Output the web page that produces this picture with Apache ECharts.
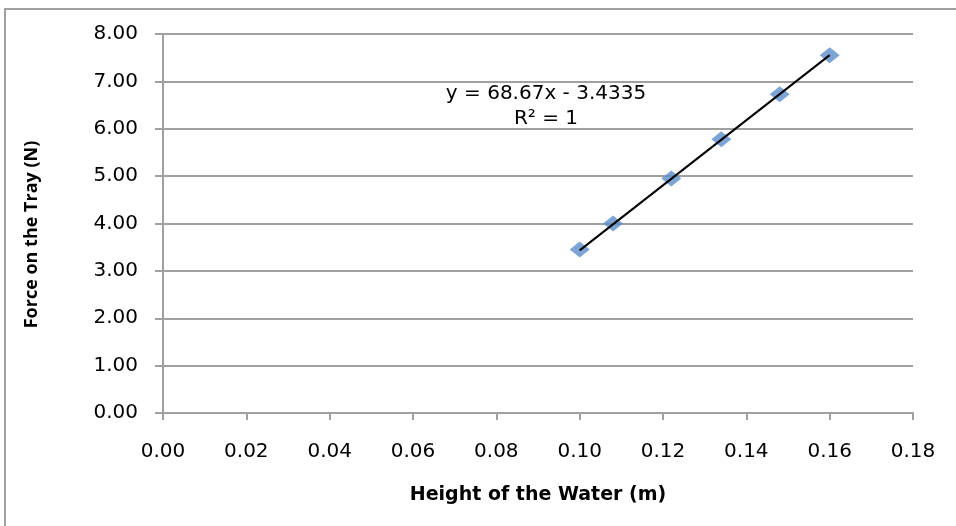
<!DOCTYPE html>
<html>
<head>
<meta charset="utf-8">
<script src="https://cdn.jsdelivr.net/npm/echarts@6/dist/echarts.min.js"></script>
<style>
  html, body { margin: 0; padding: 0; background: #fff; }
  #chart { width: 956px; height: 526px; }
</style>
</head>
<body>
<div id="chart"></div>
<script>
const heights = [0.100, 0.108, 0.122, 0.134, 0.148, 0.160]
const forces = [3.45, 4.00, 4.95, 5.78, 6.73, 7.55]
// trendline end points, y = 68.67x - 3.4335
const trendX = [0.100, 0.160]
const trendY = [3.4335, 7.5537]
const equationText = 'y = 68.67x - 3.4335'
const rSquaredText = 'R² = 1'

const wide = '"DejaVu Sans", Verdana, sans-serif'
const narrow = '"Open Sans", "DejaVu Sans", sans-serif'
const gray = '#a0a0a0'

const chart = echarts.init(document.getElementById('chart'))
chart.setOption({
  animation: false,
  backgroundColor: '#fff',
  grid: { left: 163, right: 43, top: 34, bottom: 113 },
  graphic: [
    {
      type: 'rect',
      shape: { x: 5, y: 9, width: 960, height: 530 },
      style: { fill: 'none', stroke: gray, lineWidth: 2 },
    },
    {
      type: 'text',
      x: 546, y: 94,
      style: { text: equationText, font: '20px ' + wide, fill: '#000', align: 'center', verticalAlign: 'middle' },
    },
    {
      type: 'text',
      x: 546, y: 119,
      style: { text: rSquaredText, font: '20px ' + wide, fill: '#000', align: 'center', verticalAlign: 'middle' },
    },
  ],
  xAxis: {
    type: 'value',
    min: 0, max: 0.18, interval: 0.02,
    name: 'Height of the Water (m)',
    nameLocation: 'middle',
    nameGap: 73,
    nameTextStyle: { fontFamily: wide, fontWeight: 'bold', fontSize: 19, color: '#000' },
    axisLine: { show: true, onZero: false, lineStyle: { color: gray, width: 2 } },
    axisTick: { show: true, length: 7, lineStyle: { color: gray, width: 2 } },
    axisLabel: { formatter: v => v.toFixed(2), fontFamily: wide, fontSize: 20, color: '#000', margin: 29 },
    splitLine: { show: false },
  },
  yAxis: {
    type: 'value',
    min: 0, max: 8, interval: 1,
    name: 'Force on the Tray (N)',
    nameLocation: 'middle',
    nameGap: 122,
    nameTextStyle: { fontFamily: narrow, fontWeight: 'bold', fontSize: 18, color: '#000', padding: [0, 22, 0, 0] },
    axisLine: { show: true, lineStyle: { color: gray, width: 2 } },
    axisTick: { show: true, inside: false, length: 8, lineStyle: { color: gray, width: 2 } },
    axisLabel: { formatter: v => v.toFixed(2), fontFamily: wide, fontSize: 20, color: '#000', margin: 25 },
    splitLine: { show: true, lineStyle: { color: gray, width: 2 } },
  },
  series: [
    {
      type: 'line',
      data: trendX.map((x, i) => [x, trendY[i]]),
      symbol: 'none',
      lineStyle: { color: '#000', width: 2 },
      z: 3,
    },
    {
      type: 'scatter',
      data: heights.map((h, i) => [h, forces[i]]),
      symbol: 'diamond',
      symbolSize: [20, 16],
      itemStyle: { color: '#5b8fcb' },
      z: 2,
    },
  ],
})
</script>
</body>
</html>
